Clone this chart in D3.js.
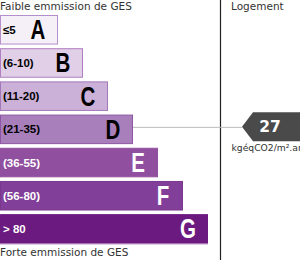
<!DOCTYPE html>
<html>
<head>
<meta charset="utf-8">
<script src="https://cdn.jsdelivr.net/npm/d3@7"></script>
<style>
  html, body { margin: 0; padding: 0; background: #fff; }
  svg { display: block; }
</style>
</head>
<body>
<div id="chart"></div>
<script>
// ---- data ----
const classes = ["A", "B", "C", "D", "E", "F", "G"];
const ranges = ["≤5", "(6-10)", "(11-20)", "(21-35)", "(36-55)", "(56-80)", "> 80"];
const ranks = [1, 2, 3, 4, 5, 6, 7];
const upperBounds = [5, 10, 20, 35, 55, 80, Infinity];
const fills = ["#f5f0f7", "#e1cfe8", "#cbb1d8", "#a97fbb", "#91509f", "#823f99", "#6b1a80"];
const strokes = ["#b58fcb", "#b07fc1", "#a477b8", "#8d55a3", "#91509f", "#7a3790", "#6b1a80"];
const textColors = ["#000", "#000", "#000", "#000", "#fff", "#fff", "#fff"];
const topLabel = "Faible emmission de GES";
const bottomLabel = "Forte emmission de GES";
const sideTitle = "Logement";
const value = 27;
const unit = "kgéqCO2/m².an";

const W = 300, H = 260;
const svg = d3.select("#chart").append("svg").attr("width", W).attr("height", H);

const y = d3.scaleBand().domain(classes).range([15, 243.7]).paddingInner(0.11).paddingOuter(0);
const x = d3.scaleLinear().domain([0, 7]).range([33, 208]);

const rows = classes.map((c, i) => ({ c, range: ranges[i], rank: ranks[i], fill: fills[i], stroke: strokes[i], tc: textColors[i] }));

const g = svg.append("g");
const row = g.selectAll("g.row").data(rows).enter().append("g").attr("class", "row");

row.append("rect")
  .attr("x", 0.5)
  .attr("y", d => y(d.c) + 0.5)
  .attr("width", d => x(d.rank) - 1)
  .attr("height", y.bandwidth() - 1)
  .attr("fill", d => d.fill)
  .attr("stroke", d => d.stroke)
  .attr("stroke-width", 1);

row.append("text")
  .attr("x", 3)
  .attr("y", d => y(d.c) + y.bandwidth() / 2 + 4)
  .attr("font-family", "'Liberation Sans', Arial, sans-serif")
  .attr("font-weight", "bold")
  .attr("font-size", 11.5)
  .attr("fill", d => d.tc)
  .text(d => d.range);

row.append("text")
  .attr("transform", d => `translate(${x(d.rank) - 20},${y(d.c) + y.bandwidth() / 2 + 9.5}) scale(0.76,1)`)
  .attr("text-anchor", "middle")
  .attr("font-family", "'Liberation Sans', Arial, sans-serif")
  .attr("font-weight", "bold")
  .attr("font-size", 27)
  .attr("fill", d => d.tc)
  .text(d => d.c);

// light stripe under last bar
svg.append("line")
  .attr("x1", 0).attr("x2", x(ranks[6]))
  .attr("y1", y("G") + y.bandwidth() + 0.5).attr("y2", y("G") + y.bandwidth() + 0.5)
  .attr("stroke", "#d2b9dc").attr("stroke-width", 1);

// titles
svg.append("text").attr("x", 0).attr("y", 10)
  .attr("font-family", "'DejaVu Sans', sans-serif").attr("font-size", 10.5).attr("fill", "#333")
  .text(topLabel);
svg.append("text").attr("x", 0).attr("y", 256)
  .attr("font-family", "'DejaVu Sans', sans-serif").attr("font-size", 10.5).attr("fill", "#333")
  .text(bottomLabel);
svg.append("text").attr("x", 231).attr("y", 10)
  .attr("font-family", "'DejaVu Sans', sans-serif").attr("font-size", 10.5).attr("fill", "#333")
  .text(sideTitle);

// divider
svg.append("line").attr("x1", 220.5).attr("x2", 220.5).attr("y1", 0).attr("y2", H)
  .attr("stroke", "#222").attr("stroke-width", 1.2);

// marker
const idx = upperBounds.findIndex(b => value <= b);
const cls = classes[idx];
const cy = y(cls) + y.bandwidth() / 2 - 2.5;
const tipX = 242, arrowH = 29;
svg.append("line").attr("x1", x(ranks[idx])).attr("x2", tipX).attr("y1", cy + 0.5).attr("y2", cy + 0.5)
  .attr("stroke", "#bbb").attr("stroke-width", 1);
svg.append("path")
  .attr("d", `M${tipX},${cy} L${tipX + 11},${cy - arrowH / 2} L${W},${cy - arrowH / 2} L${W},${cy + arrowH / 2} L${tipX + 11},${cy + arrowH / 2} Z`)
  .attr("fill", "#4a4a4a");
svg.append("text").attr("x", 270).attr("y", cy + 5.5)
  .attr("text-anchor", "middle")
  .attr("font-family", "'DejaVu Sans', sans-serif").attr("font-weight", "bold").attr("font-size", 15.5)
  .attr("fill", "#fff").text(value);
svg.append("text").attr("x", 231.5).attr("y", cy + 24)
  .attr("font-family", "'DejaVu Sans', sans-serif").attr("font-size", 9.2).attr("fill", "#333")
  .text(unit);
</script>
</body>
</html>
